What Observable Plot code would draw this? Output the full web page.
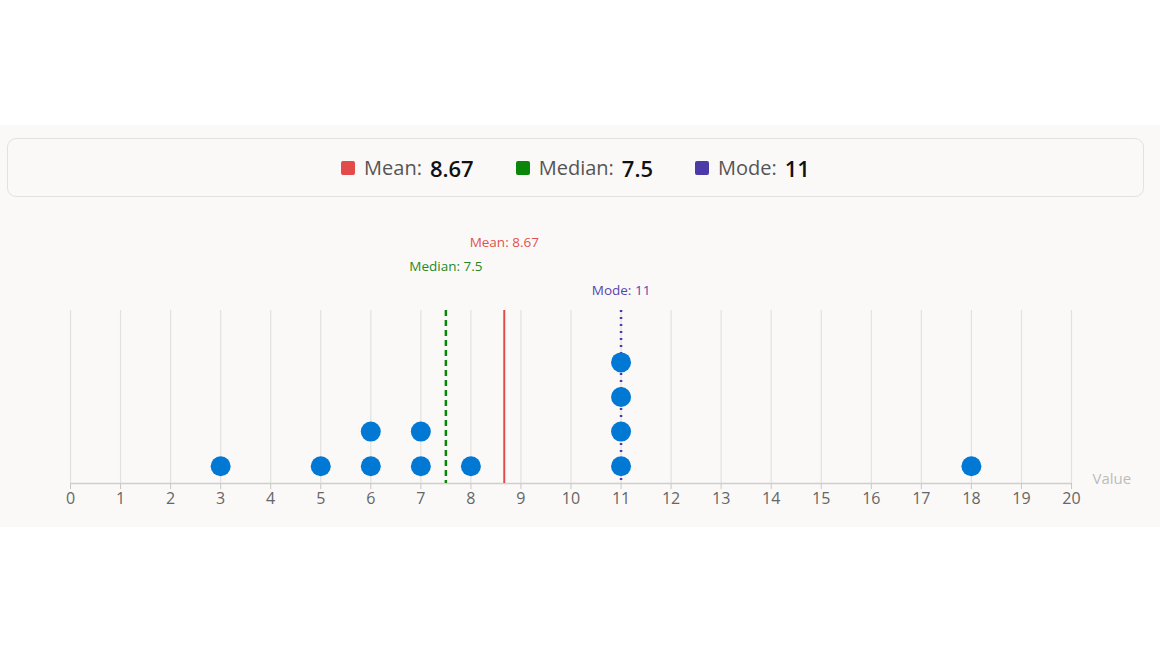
<!DOCTYPE html>
<html>
<head>
<meta charset="utf-8">
<script src="https://cdn.jsdelivr.net/npm/d3@7"></script>
<script src="https://cdn.jsdelivr.net/npm/@observablehq/plot@0.6"></script>
<style>
  html, body { margin: 0; padding: 0; background: #ffffff; font-family: "Open Sans", "Noto Sans", sans-serif; }
  #panel { position: absolute; left: 0; top: 125px; width: 1160px; height: 402px; background: #faf9f8; }
  #legend { position: absolute; left: 7px; top: 13px; width: 1135px; height: 57px; border: 1px solid #e3e2e0; border-radius: 9px;
            display: flex; align-items: center; justify-content: center; gap: 42px; }
  .item { display: flex; align-items: center; }
  .sw { width: 14px; height: 14px; border-radius: 2px; margin-right: 9px; }
  .lab { font-size: 20px; color: #555; margin-right: 8px; }
  .val { font-size: 22px; color: #111; font-weight: 600; }
  #chart { position: absolute; left: 0; top: 85px; }
</style>
</head>
<body>
<div id="panel">
  <div id="legend"></div>
  <div id="chart"></div>
</div>
<script>
const values = [3, 5, 6, 6, 7, 7, 8, 11, 11, 11, 11, 18];
const statNames = ["Mean", "Median", "Mode"];
const statColors = ["#e34b4b", "#0a860a", "#4b3aa8"];
const labelColors = ["#e05252", "#1f8a1f", "#5546b0"];
const xTicks = d3.range(0, 21);

const mean = d3.mean(values);
const median = d3.median(values);
const mode = d3.mode(values);
const statValues = [mean, median, mode];
const fmt = v => Number.isInteger(v) ? String(v) : (Math.round(v * 100) / 100).toString();

// legend
const legend = document.getElementById("legend");
statNames.forEach((n, i) => {
  const it = document.createElement("div");
  it.className = "item";
  it.innerHTML = `<span class="sw" style="background:${statColors[i]}"></span><span class="lab">${n}:</span><span class="val">${fmt(statValues[i])}</span>`;
  legend.appendChild(it);
});

// stacked dot positions
const counts = new Map();
const dots = values.map(v => {
  const k = counts.get(v) || 0;
  counts.set(v, k + 1);
  return {value: v, level: k + 0.5};
});

const stats = statNames.map((n, i) => ({name: n, value: statValues[i], label: `${n}: ${fmt(statValues[i])}`, color: statColors[i], lcolor: labelColors[i]}));

const chart = Plot.plot({
  width: 1160,
  height: 317,
  marginLeft: 70,
  marginRight: 89,
  marginTop: 100,
  marginBottom: 44,
  style: {background: "transparent", fontFamily: "'Open Sans', sans-serif"},
  x: {domain: [0, 20], ticks: xTicks, label: null},
  y: {domain: [0, 5], axis: null},
  marks: [
    Plot.ruleX(xTicks, {stroke: "#e2e1df", strokeWidth: 1.2}),
    Plot.axisX({ticks: xTicks, tickSize: 6, stroke: "#c8c7c4", fill: "#666", fontSize: 16, tickPadding: 3, label: null}),
    Plot.ruleY([0], {stroke: "#cfcecb", strokeWidth: 1.5}),
    Plot.text(["Value"], {frameAnchor: "bottom-right", dx: 21, dy: 0, textAnchor: "start", fill: "#bdbcb9", fontSize: 15}),
    Plot.ruleX([stats[0]], {x: "value", stroke: "color", strokeWidth: 2}),
    Plot.ruleX([stats[1]], {x: "value", stroke: "color", strokeWidth: 2.5, strokeDasharray: "6,4"}),
    Plot.ruleX([stats[2]], {x: "value", stroke: "color", strokeWidth: 2.5, strokeDasharray: "2,5"}),
    Plot.text([stats[0]], {x: "value", frameAnchor: "top", dy: -73, text: "label", fill: "lcolor", fontSize: 13.5, fontWeight: 500}),
    Plot.text([stats[1]], {x: "value", frameAnchor: "top", dy: -49, text: "label", fill: "lcolor", fontSize: 13.5, fontWeight: 500}),
    Plot.text([stats[2]], {x: "value", frameAnchor: "top", dy: -25, text: "label", fill: "lcolor", fontSize: 13.5, fontWeight: 500}),
    Plot.dot(dots, {x: "value", y: "level", r: 10, fill: "#0078d4"})
  ]
});
document.getElementById("chart").appendChild(chart);
</script>
</body>
</html>
